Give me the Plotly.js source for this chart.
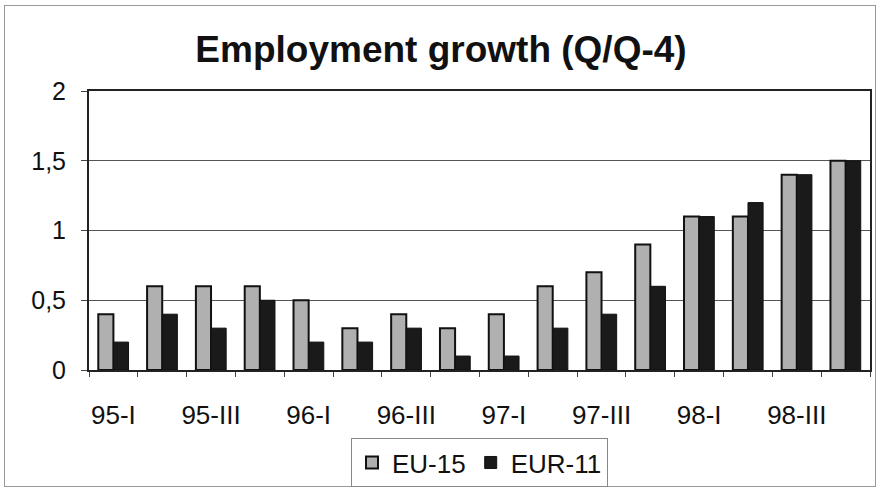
<!DOCTYPE html>
<html><head><meta charset="utf-8">
<script src="https://cdn.plot.ly/plotly-3.0.1.min.js"></script>
<style>
html,body{margin:0;padding:0;background:#fff;}
#frame{position:absolute;left:4px;top:5px;width:872px;height:482px;border:1px solid #999;box-sizing:border-box;}
#chart{position:absolute;left:0;top:0;width:882px;height:492px;}
</style>
</head><body>
<div id="frame"></div>
<div id="chart"></div>
<script>
const quarters = ["95-I","95-II","95-III","95-IV","96-I","96-II","96-III","96-IV","97-I","97-II","97-III","97-IV","98-I","98-II","98-III","98-IV"];
const tickLabels = ["95-I","","95-III","","96-I","","96-III","","97-I","","97-III","","98-I","","98-III",""];
const eu15  = [0.4,0.6,0.6,0.6,0.5,0.3,0.4,0.3,0.4,0.6,0.7,0.9,1.1,1.1,1.4,1.5];
const eur11 = [0.2,0.4,0.3,0.5,0.2,0.2,0.3,0.1,0.1,0.3,0.4,0.6,1.1,1.2,1.4,1.5];

const data = [
  {type:'bar', name:'EU-15', x:quarters, y:eu15,
   marker:{color:'#b0b0b0', line:{color:'#111', width:2}}},
  {type:'bar', name:'EUR-11', x:quarters, y:eur11,
   marker:{color:'#1a1a1a', line:{color:'#111', width:1}}}
];
const layout = {
  width:882, height:492,
  paper_bgcolor:'rgba(0,0,0,0)', plot_bgcolor:'#fff',
  separators:',.',
  margin:{l:89, r:12, t:91, b:122, autoexpand:false},
  font:{family:'Liberation Sans, Arial, sans-serif', color:'#111', size:26},
  title:{text:'<b>Employment growth (Q/Q-4)</b>', font:{size:37, family:'Liberation Sans, Arial, sans-serif', color:'#111'},
         x:0.5, xref:'container', xanchor:'center', y:0.901, yanchor:'middle'},
  barmode:'group', bargap:0.38, bargroupgap:0,
  xaxis:{type:'category', tickmode:'array', tickvals:quarters, ticktext:tickLabels,
         tickson:'boundaries', ticks:'outside', ticklen:5, tickcolor:'#444', tickangle:0,
         ticklabelstandoff:21, automargin:false,
         showline:true, linecolor:'#222', linewidth:2, mirror:true,
         tickfont:{size:26}, showgrid:false},
  yaxis:{range:[0,2], tickvals:[0,0.5,1,1.5,2], ticktext:['0','0,5','1','1,5','2'],
         ticks:'outside', ticklen:6, tickcolor:'#444', ticklabelstandoff:10, automargin:false,
         showline:true, linecolor:'#222', linewidth:2, mirror:true,
         showgrid:true, gridcolor:'#555', gridwidth:1, zeroline:false,
         tickfont:{size:25}},
  showlegend:true,
  legend:{orientation:'h', x:0.5, xanchor:'center', y:-0.244, yanchor:'top',
          bordercolor:'#888', borderwidth:1, font:{size:26}, bgcolor:'#fff',
          itemwidth:30, tracegroupgap:0}
};
Plotly.newPlot('chart', data, layout, {displayModeBar:false, staticPlot:true});
</script>
</body></html>
